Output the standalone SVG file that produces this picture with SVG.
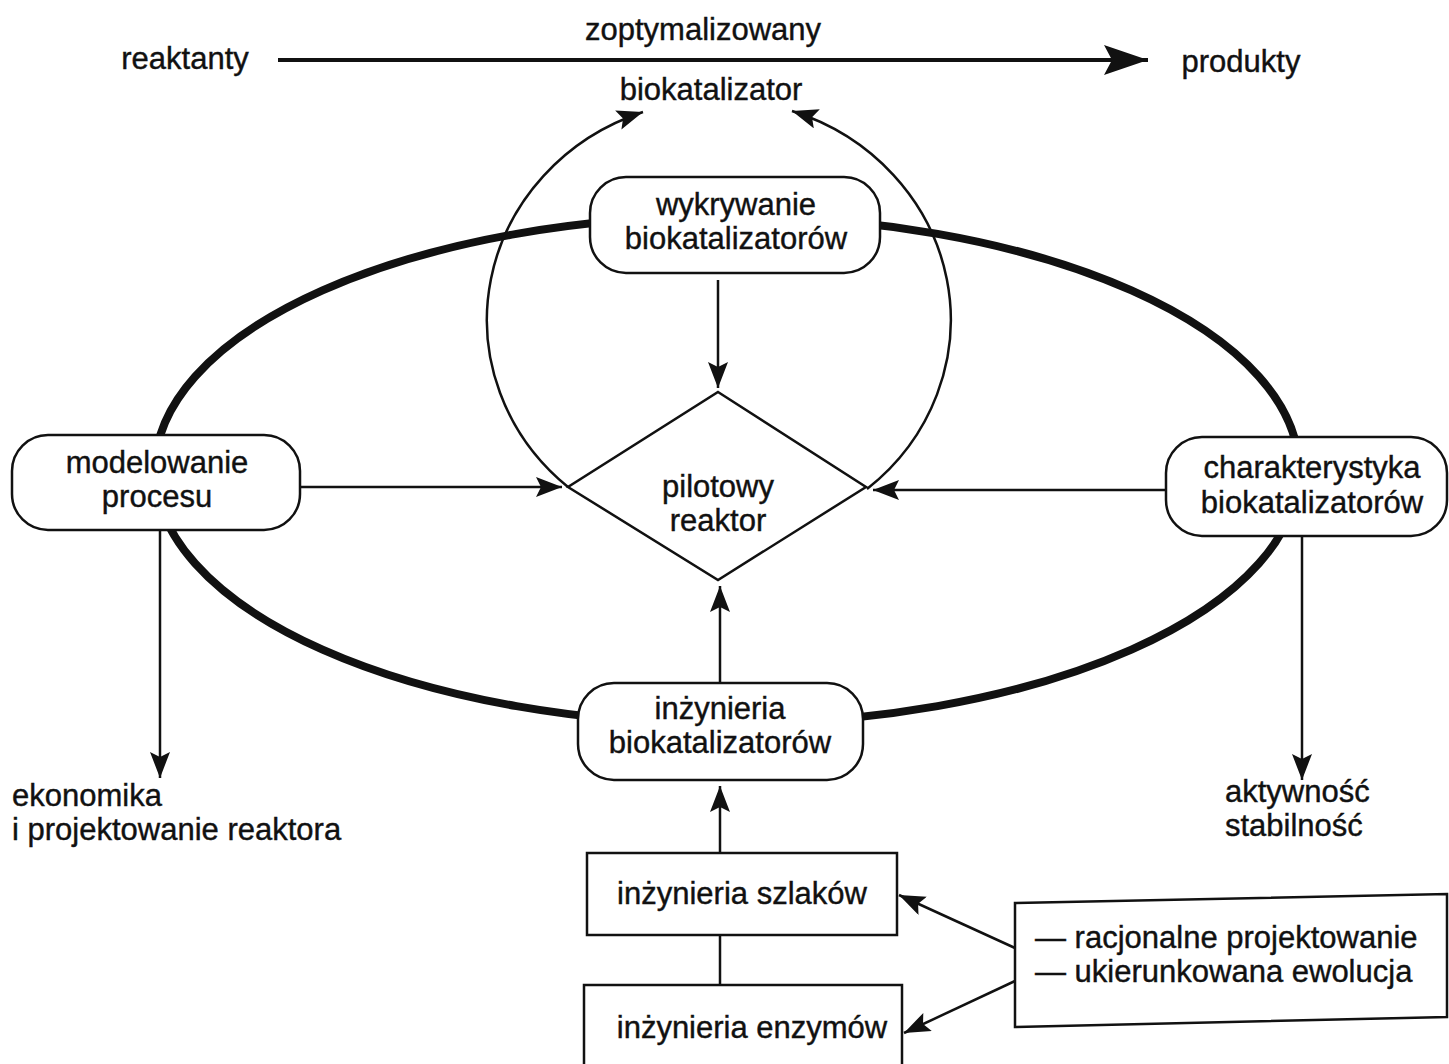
<svg xmlns="http://www.w3.org/2000/svg" width="1449" height="1064" viewBox="0 0 1449 1064">
<defs>
<style>
text{font-family:"Liberation Sans",Arial,sans-serif;font-size:31px;fill:#111;stroke:#111;stroke-width:0.4;}
.c{text-anchor:middle;}
.box{fill:#fff;stroke:#111;stroke-width:2.5;}
.ln{fill:none;stroke:#111;stroke-width:2.5;}
</style>
<marker id="ah" markerUnits="userSpaceOnUse" markerWidth="28" markerHeight="22" refX="26" refY="10" orient="auto" viewBox="0 0 28 22">
<path d="M0,0 L26,10 L0,20 L5,10 z" fill="#111"/>
</marker>
<marker id="big" markerUnits="userSpaceOnUse" markerWidth="46" markerHeight="32" refX="44" refY="15" orient="auto" viewBox="0 0 46 32">
<path d="M0,0 L44,15 L0,30 L8,15 z" fill="#111"/>
</marker>
</defs>
<rect width="1449" height="1064" fill="#fff"/>

<g id="cycle">
<ellipse cx="727" cy="470" rx="572" ry="254" fill="none" stroke="#111" stroke-width="8"/>
</g>

<g id="connectors">
<line x1="278" y1="60" x2="1148" y2="60" stroke="#111" stroke-width="4" marker-end="url(#big)"/>
<path class="ln" d="M568,487 A232 220 0 0 1 643,112" marker-end="url(#ah)"/>
<path class="ln" d="M867,489 A232 220 0 0 0 792,111" marker-end="url(#ah)"/>
<line class="ln" x1="718" y1="280" x2="718" y2="388" marker-end="url(#ah)"/>
<line class="ln" x1="300" y1="487" x2="562" y2="487" marker-end="url(#ah)"/>
<line class="ln" x1="1166" y1="490" x2="873" y2="490" marker-end="url(#ah)"/>
<line class="ln" x1="720" y1="683" x2="720" y2="586" marker-end="url(#ah)"/>
<line class="ln" x1="160" y1="530" x2="160" y2="778" marker-end="url(#ah)"/>
<line class="ln" x1="1302" y1="536" x2="1302" y2="780" marker-end="url(#ah)"/>
<line class="ln" x1="720" y1="853" x2="720" y2="786" marker-end="url(#ah)"/>
<line class="ln" x1="720" y1="935" x2="720" y2="985"/>
<line class="ln" x1="1015" y1="948" x2="899" y2="895" marker-end="url(#ah)"/>
<line class="ln" x1="1015" y1="981" x2="904" y2="1033" marker-end="url(#ah)"/>
</g>

<g id="top-labels">
<text x="185" y="69" class="c">reaktanty</text>
<text x="703" y="40" class="c">zoptymalizowany</text>
<text x="711" y="100" class="c">biokatalizator</text>
<text x="1241" y="72" class="c">produkty</text>
</g>

<g id="wykrywanie">
<rect class="box" x="590" y="177" width="290" height="96" rx="36"/>
<text x="736" y="215" class="c">wykrywanie</text>
<text x="736" y="249" class="c">biokatalizatorów</text>
</g>

<g id="modelowanie">
<rect class="box" x="12" y="435" width="288" height="95" rx="36"/>
<text x="157" y="473" class="c">modelowanie</text>
<text x="157" y="507" class="c">procesu</text>
</g>

<g id="charakterystyka">
<rect class="box" x="1166" y="437" width="281" height="99" rx="36"/>
<text x="1312" y="478" class="c">charakterystyka</text>
<text x="1312" y="513" class="c">biokatalizatorów</text>
</g>

<g id="reaktor">
<polygon class="box" points="718,392 866,487 718,580 568,487"/>
<text x="718" y="497" class="c">pilotowy</text>
<text x="718" y="531" class="c">reaktor</text>
</g>

<g id="inzynieria-biokat">
<rect class="box" x="578" y="683" width="285" height="97" rx="36"/>
<text x="720" y="719" class="c">inżynieria</text>
<text x="720" y="753" class="c">biokatalizatorów</text>
</g>

<g id="ekonomika">
<text x="12" y="806">ekonomika</text>
<text x="12" y="840">i projektowanie reaktora</text>
</g>

<g id="aktywnosc">
<text x="1225" y="802">aktywność</text>
<text x="1225" y="836">stabilność</text>
</g>

<g id="szlakow">
<rect class="box" x="587" y="853" width="310" height="82"/>
<text x="742" y="904" class="c">inżynieria szlaków</text>
</g>

<g id="enzymow">
<rect class="box" x="584" y="985" width="318" height="90"/>
<text x="752" y="1038" class="c">inżynieria enzymów</text>
</g>

<g id="metody">
<polygon class="box" points="1015,903 1447,894 1447,1017 1015,1027"/>
<text x="1035" y="948">— racjonalne projektowanie</text>
<text x="1035" y="982">— ukierunkowana ewolucja</text>
</g>
</svg>
